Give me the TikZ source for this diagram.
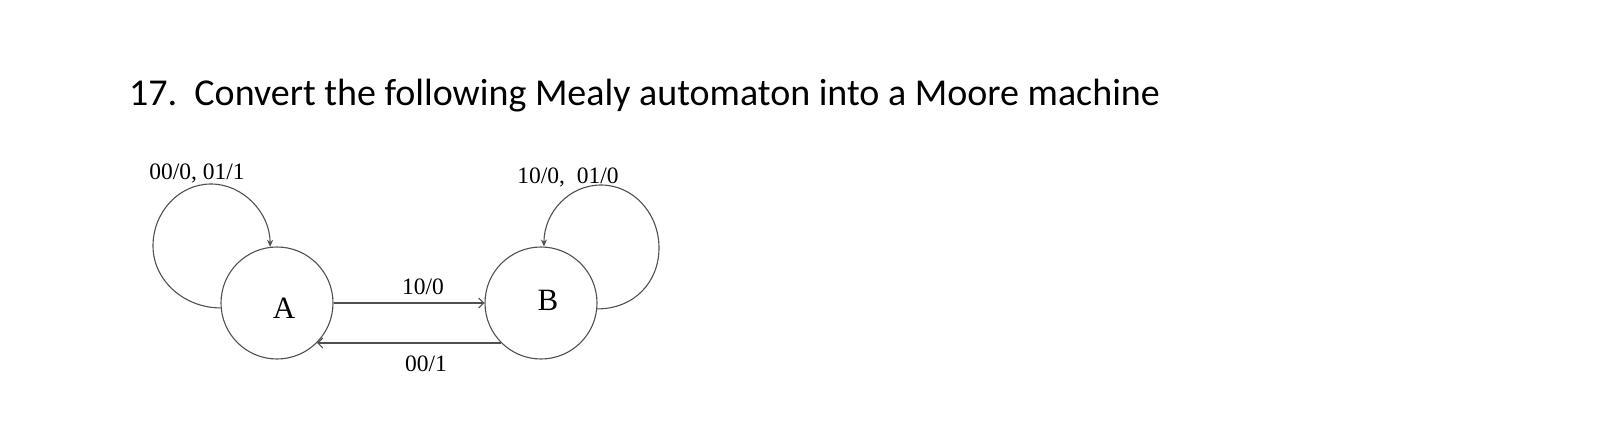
\documentclass[tikz,border=0pt]{standalone}
\usepackage{fontspec}
\setmainfont{Liberation Serif}
\newfontfamily\titlefont{Carlito}
\usetikzlibrary{arrows.meta,positioning}
\definecolor{edgegray}{HTML}{505050}
\tikzset{statecircle/.style={draw=edgegray,line width=1.1pt,circle,minimum size=112pt,inner sep=0,font=\fontsize{31}{31}\selectfont},
    loopedge/.style={draw=edgegray,line width=1.1pt,-{Stealth[length=7pt,width=6pt]}},
    straightedge/.style={draw=edgegray,line width=1.1pt,-{Straight Barb[length=5pt,width=10pt]}},
    edgelabel/.style={font=\fontsize{23.5}{23.5}\selectfont,inner sep=0}
}

\begin{document}
\begin{tikzpicture}[x=1pt,y=1pt]
\useasboundingbox (0,0) rectangle (1618,432);

\node (title) [anchor=base west,inner sep=0,font=\titlefont\fontsize{38}{38}\selectfont] at (129,326)
    {17.\ \ Convert the following Mealy automaton into a Moore machine};

%% states
\node (A) at (277,129) [statecircle] {};
\node (B) at (541,129) [statecircle] {};
\node (labelA) at (284,124) [font=\fontsize{31}{31}\selectfont,inner sep=0] {A};
\node (labelB) at (548,132) [font=\fontsize{31}{31}\selectfont,inner sep=0] {B};

%% transitions between the states
\draw [straightedge] (A.east) -- (B.west);
\draw [straightedge] (B.225) -- (A.-45);

\node (labAB) at (423,145) [edgelabel] {10/0};
\node (labBA) at (426,68) [edgelabel] {00/1};

%% self loops
\draw [loopedge] (A.185) .. controls +(-37,0) and +(0,-34) .. (153,186)
    .. controls +(0,34) and +(-32,0) .. (211,248)
    .. controls +(32,0) and +(0,34) .. (A.97);
\draw [loopedge] (B.-6) .. controls +(37,0) and +(0,-34) .. (659,184)
    .. controls +(0,35) and +(32,0) .. (601,247)
    .. controls +(-32,0) and +(0,34) .. (B.87);

\node (labA) at (197,259) [edgelabel] {00/0, 01/1};
\node (labB) at (568,255) [edgelabel] {10/0,\ \ 01/0};

\end{tikzpicture}
\end{document}
